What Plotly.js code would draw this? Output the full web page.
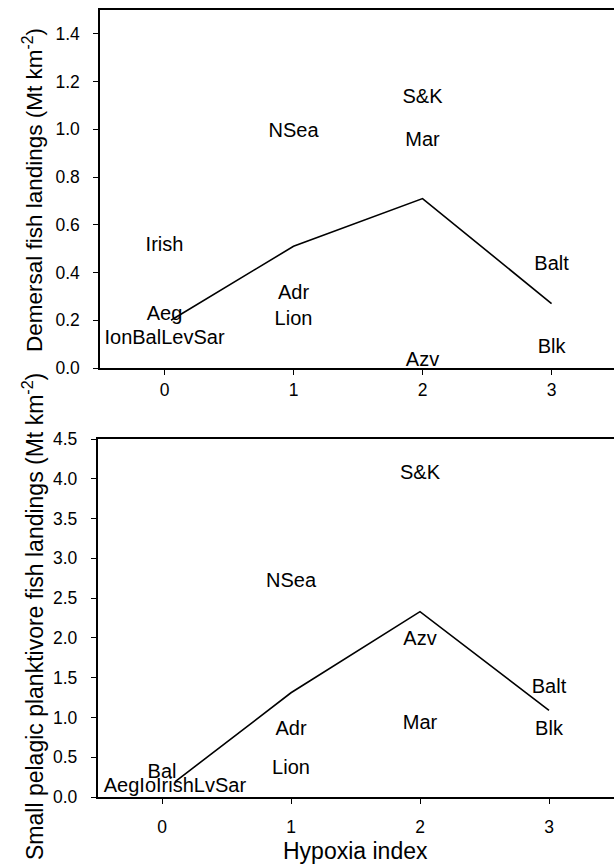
<!DOCTYPE html>
<html>
<head>
<meta charset="utf-8">
<script src="https://cdn.plot.ly/plotly-3.0.1.min.js"></script>
<style>html,body{margin:0;padding:0;background:#fff;}#chart{width:614px;height:866px;}</style>
</head>
<body>
<div id="chart"></div>
<script>
// Top panel: demersal fish landings
const demLabels = ["Irish", "NSea", "S&K", "Mar", "Aeg", "IonBalLevSar", "Adr", "Lion", "Balt", "Blk", "Azv"];
const demX      = [0, 1, 2, 2, 0, 0, 1, 1, 3, 3, 2];
const demY      = [0.51, 0.99, 1.13, 0.95, 0.22, 0.12, 0.31, 0.20, 0.43, 0.085, 0.03];
const demLineX  = [0.05, 1, 2, 3];
const demLineY  = [0.20, 0.51, 0.71, 0.27];

// Bottom panel: small pelagic planktivore fish landings
const pelLabels = ["S&K", "NSea", "Azv", "Balt", "Mar", "Blk", "Adr", "Lion", "Bal", "AegIoIrishLvSar"];
const pelX      = [2, 1, 2, 3, 2, 3, 1, 1, 0, 0.1];
const pelY      = [4.06, 2.70, 1.97, 1.37, 0.92, 0.84, 0.84, 0.35, 0.30, 0.12];
const pelLineX  = [0.1, 1, 2, 3];
const pelLineY  = [0.19, 1.31, 2.33, 1.09];

const xTicks = [0, 1, 2, 3];
const demTicks = [0, 0.2, 0.4, 0.6, 0.8, 1.0, 1.2, 1.4];
const pelTicks = [0, 0.5, 1.0, 1.5, 2.0, 2.5, 3.0, 3.5, 4.0, 4.5];

const FONT = "Liberation Sans, Arial, Helvetica, sans-serif";

const traces = [
  {x: demLineX, y: demLineY, mode: "lines", line: {color: "#000", width: 1.6}, xaxis: "x", yaxis: "y", hoverinfo: "skip"},
  {x: demX, y: demY, text: demLabels, mode: "text", textposition: "middle center",
   textfont: {family: FONT, size: 20, color: "#000"}, cliponaxis: false, xaxis: "x", yaxis: "y"},
  {x: pelLineX, y: pelLineY, mode: "lines", line: {color: "#000", width: 1.6}, xaxis: "x2", yaxis: "y2", hoverinfo: "skip"},
  {x: pelX, y: pelY, text: pelLabels, mode: "text", textposition: "middle center",
   textfont: {family: FONT, size: 20, color: "#000"}, cliponaxis: false, xaxis: "x2", yaxis: "y2"}
];

const axCommon = {
  showgrid: false, zeroline: false, showline: true, linecolor: "#000", linewidth: 1.7,
  ticks: "outside", ticklen: 5, tickwidth: 1, tickcolor: "#000",
  tickfont: {family: FONT, size: 17.5, color: "#000"}
};

const layout = {
  width: 614, height: 866,
  margin: {l: 0, r: 0, t: 0, b: 0},
  paper_bgcolor: "#fff", plot_bgcolor: "#fff",
  showlegend: false,
  font: {family: FONT, color: "#000"},
  xaxis: Object.assign({}, axCommon, {domain: [100/614, 1], range: [-0.5, 3.484], tickvals: xTicks,
    anchor: "y", mirror: true, ticklabelstandoff: 0}),
  yaxis: Object.assign({}, axCommon, {domain: [(866-368)/866, (866-10)/866], range: [0, 1.5], tickvals: demTicks,
    tickformat: ".1f", anchor: "x", mirror: false, ticklabelstandoff: 10}),
  xaxis2: Object.assign({}, axCommon, {domain: [97.5/614, 613.5/614], range: [-0.5, 3.5], tickvals: xTicks,
    anchor: "y2", mirror: true, ticklabelstandoff: 8}),
  yaxis2: Object.assign({}, axCommon, {domain: [(866-797)/866, (866-439)/866], range: [0, 4.5], tickvals: pelTicks,
    tickformat: ".1f", anchor: "x2", mirror: true, ticklabelstandoff: 10}),
  annotations: [
    {text: "Demersal fish landings (Mt km<sup>-2</sup>)", xref: "paper", yref: "paper",
     x: 33/614, y: (866-190)/866, textangle: -90, showarrow: false, xanchor: "center", yanchor: "middle",
     font: {family: FONT, size: 22.5, color: "#000"}},
    {text: "Small pelagic planktivore fish landings (Mt km<sup>-2</sup>)", xref: "paper", yref: "paper",
     x: 33/614, y: (866-617)/866, textangle: -90, showarrow: false, xanchor: "center", yanchor: "middle",
     font: {family: FONT, size: 23, color: "#000"}},
    {text: "Hypoxia index", xref: "paper", yref: "paper",
     x: 355/614, y: (866-851)/866, showarrow: false, xanchor: "center", yanchor: "middle",
     font: {family: FONT, size: 23, color: "#000"}}
  ]
};

Plotly.newPlot("chart", traces, layout, {staticPlot: true, displayModeBar: false});
</script>
</body>
</html>
